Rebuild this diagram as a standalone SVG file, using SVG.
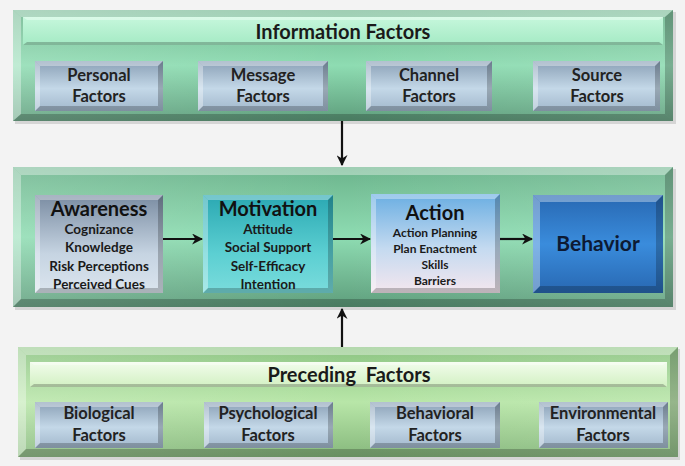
<svg xmlns="http://www.w3.org/2000/svg" width="685" height="466" viewBox="0 0 685 466">
<defs>
<linearGradient id="gPanel" x1="0" y1="0" x2="0" y2="1">
<stop offset="0" stop-color="#6cb48c"/><stop offset="0.5" stop-color="#8edcb2"/><stop offset="1" stop-color="#5e9e7c"/>
</linearGradient>
<linearGradient id="gPanelH" x1="0" y1="0" x2="1" y2="0">
<stop offset="0" stop-color="#ffffff" stop-opacity="0.15"/><stop offset="0.5" stop-color="#ffffff" stop-opacity="0"/><stop offset="1" stop-color="#ffffff" stop-opacity="0.12"/>
</linearGradient>
<linearGradient id="gPanelB" x1="0" y1="0" x2="0" y2="1">
<stop offset="0" stop-color="#8cc482"/><stop offset="0.5" stop-color="#b8e6a8"/><stop offset="1" stop-color="#86b87c"/>
</linearGradient>
<linearGradient id="gTitle" x1="0" y1="0" x2="0" y2="1">
<stop offset="0" stop-color="#c6f7dc"/><stop offset="1" stop-color="#a4eac4"/>
</linearGradient>
<linearGradient id="gTitleB" x1="0" y1="0" x2="0" y2="1">
<stop offset="0" stop-color="#f2fdec"/><stop offset="1" stop-color="#d2f0c2"/>
</linearGradient>
<linearGradient id="gSub" x1="0" y1="0" x2="0" y2="1">
<stop offset="0" stop-color="#8aa0b6"/><stop offset="0.55" stop-color="#c4d8e8"/><stop offset="1" stop-color="#a2b8cc"/>
</linearGradient>
<linearGradient id="gAware" x1="0" y1="0" x2="0" y2="1">
<stop offset="0" stop-color="#7a8ca2"/><stop offset="0.6" stop-color="#c6d4e2"/><stop offset="1" stop-color="#dbe5ee"/>
</linearGradient>
<linearGradient id="gMot" x1="0" y1="0" x2="0" y2="1">
<stop offset="0" stop-color="#2aa8b2"/><stop offset="0.6" stop-color="#5ccfd2"/><stop offset="1" stop-color="#7adcdc"/>
</linearGradient>
<linearGradient id="gAct" x1="0" y1="0" x2="0" y2="1">
<stop offset="0" stop-color="#6aaee2"/><stop offset="0.55" stop-color="#c4daf0"/><stop offset="1" stop-color="#f4e6ee"/>
</linearGradient>
<linearGradient id="gBeh" x1="0" y1="0" x2="0" y2="1">
<stop offset="0" stop-color="#2868b2"/><stop offset="0.5" stop-color="#3a8cdc"/><stop offset="1" stop-color="#2868b2"/>
</linearGradient>
<marker id="ah" viewBox="0 0 10 10" refX="9" refY="5" markerWidth="5" markerHeight="5" orient="auto">
<path d="M0,0 L10,5 L0,10 L3,5 z" fill="#111"/>
</marker>
<style>
.hi{fill:#ffffff;fill-opacity:0.35}
.sh{fill:#000000;fill-opacity:0.22}
.shadow{fill:#000000;fill-opacity:0.12}
.t{font-family:Lato,"Open Sans","Liberation Sans",sans-serif;font-weight:bold;fill:#1a1a1a;text-anchor:middle}
.ttl{font-size:20px}
.sub{font-size:16.5px;fill:#222}
.big{font-size:20px;fill:#111}
.it{font-size:13.5px}
.its{font-size:12px}
.conn{stroke:#111;stroke-width:2.2;fill:none;marker-end:url(#ah)}
</style>
</defs>
<rect width="685" height="466" fill="#f3f3f3"/>

<g id="info-panel">
<rect class="shadow" x="15" y="12" width="661" height="112"/>
<rect x="13" y="10" width="660" height="111" fill="url(#gPanel)"/>
<rect x="13" y="10" width="660" height="111" fill="url(#gPanelH)"/>
<polygon class="hi" points="13,10 673,10 665,17 21,17"/>
<polygon class="hi" points="13,10 21,17 21,114 13,121"/>
<polygon class="sh" points="13,121 21,114 665,114 673,121"/>
<polygon class="sh" points="673,10 673,121 665,114 665,17"/>
<rect x="23" y="17" width="640" height="28" fill="url(#gTitle)"/>
<polygon class="hi" points="23,17 663,17 659,20 27,20"/>
<polygon class="sh" points="23,45 27,42 659,42 663,45"/>
<text class="t ttl" x="343" y="39">Information Factors</text>
</g>

<g id="personal">
<rect x="35" y="61" width="128" height="50" fill="url(#gSub)"/>
<polygon class="hi" points="35,61 163,61 158,66 40,66"/><polygon class="sh" points="35,111 40,106 158,106 163,111"/>
<polygon class="sh" points="163,61 163,111 158,106 158,66"/><polygon class="hi" points="35,61 40,66 40,106 35,111"/>
<text class="t sub" x="99" y="81">Personal</text><text class="t sub" x="99" y="102">Factors</text>
</g>
<g id="message">
<rect x="198" y="61" width="130" height="50" fill="url(#gSub)"/>
<polygon class="hi" points="198,61 328,61 323,66 203,66"/><polygon class="sh" points="198,111 203,106 323,106 328,111"/>
<polygon class="sh" points="328,61 328,111 323,106 323,66"/><polygon class="hi" points="198,61 203,66 203,106 198,111"/>
<text class="t sub" x="263" y="81">Message</text><text class="t sub" x="263" y="102">Factors</text>
</g>
<g id="channel">
<rect x="366" y="61" width="126" height="50" fill="url(#gSub)"/>
<polygon class="hi" points="366,61 492,61 487,66 371,66"/><polygon class="sh" points="366,111 371,106 487,106 492,111"/>
<polygon class="sh" points="492,61 492,111 487,106 487,66"/><polygon class="hi" points="366,61 371,66 371,106 366,111"/>
<text class="t sub" x="429" y="81">Channel</text><text class="t sub" x="429" y="102">Factors</text>
</g>
<g id="source">
<rect x="533" y="61" width="127" height="50" fill="url(#gSub)"/>
<polygon class="hi" points="533,61 660,61 655,66 538,66"/><polygon class="sh" points="533,111 538,106 655,106 660,111"/>
<polygon class="sh" points="660,61 660,111 655,106 655,66"/><polygon class="hi" points="533,61 538,66 538,106 533,111"/>
<text class="t sub" x="597" y="81">Source</text><text class="t sub" x="597" y="102">Factors</text>
</g>

<g id="process-panel">
<rect class="shadow" x="15" y="169" width="661" height="141"/>
<rect x="13" y="167" width="660" height="140" fill="url(#gPanel)"/>
<rect x="13" y="167" width="660" height="140" fill="url(#gPanelH)"/>
<polygon class="hi" points="13,167 673,167 665,175 21,175"/>
<polygon class="hi" points="13,167 21,175 21,299 13,307"/>
<polygon class="sh" points="13,307 21,299 665,299 673,307"/>
<polygon class="sh" points="673,167 673,307 665,299 665,175"/>
</g>

<g id="awareness">
<rect x="35" y="195" width="128" height="98" fill="url(#gAware)"/>
<polygon class="hi" points="35,195 163,195 158,200 40,200"/><polygon class="sh" points="35,293 40,288 158,288 163,293"/>
<polygon class="sh" points="163,195 163,293 158,288 158,200"/><polygon class="hi" points="35,195 40,200 40,288 35,293"/>
<text class="t big" x="99" y="216">Awareness</text>
<text class="t it" x="99" y="234">Cognizance</text>
<text class="t it" x="99" y="252">Knowledge</text>
<text class="t it" x="99" y="271">Risk Perceptions</text>
<text class="t it" x="99" y="289">Perceived Cues</text>
</g>
<g id="motivation">
<rect x="203" y="195" width="130" height="98" fill="url(#gMot)"/>
<polygon class="hi" points="203,195 333,195 328,200 208,200"/><polygon class="sh" points="203,293 208,288 328,288 333,293"/>
<polygon class="sh" points="333,195 333,293 328,288 328,200"/><polygon class="hi" points="203,195 208,200 208,288 203,293"/>
<text class="t big" x="268" y="216">Motivation</text>
<text class="t it" x="268" y="234">Attitude</text>
<text class="t it" x="268" y="252">Social Support</text>
<text class="t it" x="268" y="271">Self-Efficacy</text>
<text class="t it" x="268" y="289">Intention</text>
</g>
<g id="action">
<rect x="371" y="194" width="129" height="99" fill="url(#gAct)"/>
<polygon class="hi" points="371,194 500,194 495,199 376,199"/><polygon class="sh" points="371,293 376,288 495,288 500,293"/>
<polygon class="sh" points="500,194 500,293 495,288 495,199"/><polygon class="hi" points="371,194 376,199 376,288 371,293"/>
<text class="t big" x="435" y="220">Action</text>
<text class="t its" x="435" y="237">Action Planning</text>
<text class="t its" x="435" y="253">Plan Enactment</text>
<text class="t its" x="435" y="269">Skills</text>
<text class="t its" x="435" y="285">Barriers</text>
</g>
<g id="behavior">
<rect x="533" y="195" width="130" height="98" fill="url(#gBeh)"/>
<polygon class="hi" points="533,195 663,195 656,202 540,202"/><polygon class="sh" points="533,293 540,286 656,286 663,293"/>
<polygon class="sh" points="663,195 663,293 656,286 656,202"/><polygon class="hi" points="533,195 540,202 540,286 533,293"/>
<text class="t big" x="598" y="251" style="font-size:21px;fill:#0d1a33">Behavior</text>
</g>

<g id="preceding-panel">
<rect class="shadow" x="20" y="349" width="660" height="111"/>
<rect x="18" y="347" width="660" height="110" fill="url(#gPanelB)"/>
<rect x="18" y="347" width="660" height="110" fill="url(#gPanelH)"/>
<polygon class="hi" points="18,347 678,347 670,355 26,355"/>
<polygon class="hi" points="18,347 26,355 26,449 18,457"/>
<polygon class="sh" points="18,457 26,449 670,449 678,457"/>
<polygon class="sh" points="678,347 678,457 670,449 670,355"/>
<rect x="30" y="362" width="637" height="25" fill="url(#gTitleB)"/>
<polygon class="hi" points="30,362 667,362 663,365 34,365"/>
<polygon class="sh" points="30,387 34,384 663,384 667,387"/>
<text class="t ttl" x="349" y="382" xml:space="preserve">Preceding  Factors</text>
</g>

<g id="biological">
<rect x="35" y="402" width="128" height="46" fill="url(#gSub)"/>
<polygon class="hi" points="35,402 163,402 158,407 40,407"/><polygon class="sh" points="35,448 40,443 158,443 163,448"/>
<polygon class="sh" points="163,402 163,448 158,443 158,407"/><polygon class="hi" points="35,402 40,407 40,443 35,448"/>
<text class="t sub" x="99" y="419">Biological</text><text class="t sub" x="99" y="441">Factors</text>
</g>
<g id="psychological">
<rect x="204" y="402" width="129" height="46" fill="url(#gSub)"/>
<polygon class="hi" points="204,402 333,402 328,407 209,407"/><polygon class="sh" points="204,448 209,443 328,443 333,448"/>
<polygon class="sh" points="333,402 333,448 328,443 328,407"/><polygon class="hi" points="204,402 209,407 209,443 204,448"/>
<text class="t sub" x="268" y="419">Psychological</text><text class="t sub" x="268" y="441">Factors</text>
</g>
<g id="behavioral">
<rect x="370" y="402" width="130" height="46" fill="url(#gSub)"/>
<polygon class="hi" points="370,402 500,402 495,407 375,407"/><polygon class="sh" points="370,448 375,443 495,443 500,448"/>
<polygon class="sh" points="500,402 500,448 495,443 495,407"/><polygon class="hi" points="370,402 375,407 375,443 370,448"/>
<text class="t sub" x="435" y="419">Behavioral</text><text class="t sub" x="435" y="441">Factors</text>
</g>
<g id="environmental">
<rect x="539" y="402" width="129" height="46" fill="url(#gSub)"/>
<polygon class="hi" points="539,402 668,402 663,407 544,407"/><polygon class="sh" points="539,448 544,443 663,443 668,448"/>
<polygon class="sh" points="668,402 668,448 663,443 663,407"/><polygon class="hi" points="539,402 544,407 544,443 539,448"/>
<text class="t sub" x="603" y="419">Environmental</text><text class="t sub" x="603" y="441">Factors</text>
</g>

<g id="connectors">
<line class="conn" x1="342" y1="121" x2="342" y2="165"/>
<line class="conn" x1="342" y1="347" x2="342" y2="309"/>
<line class="conn" x1="163" y1="239" x2="202" y2="239"/>
<line class="conn" x1="333" y1="239" x2="370" y2="239"/>
<line class="conn" x1="500" y1="239" x2="532" y2="239"/>
</g>
</svg>
